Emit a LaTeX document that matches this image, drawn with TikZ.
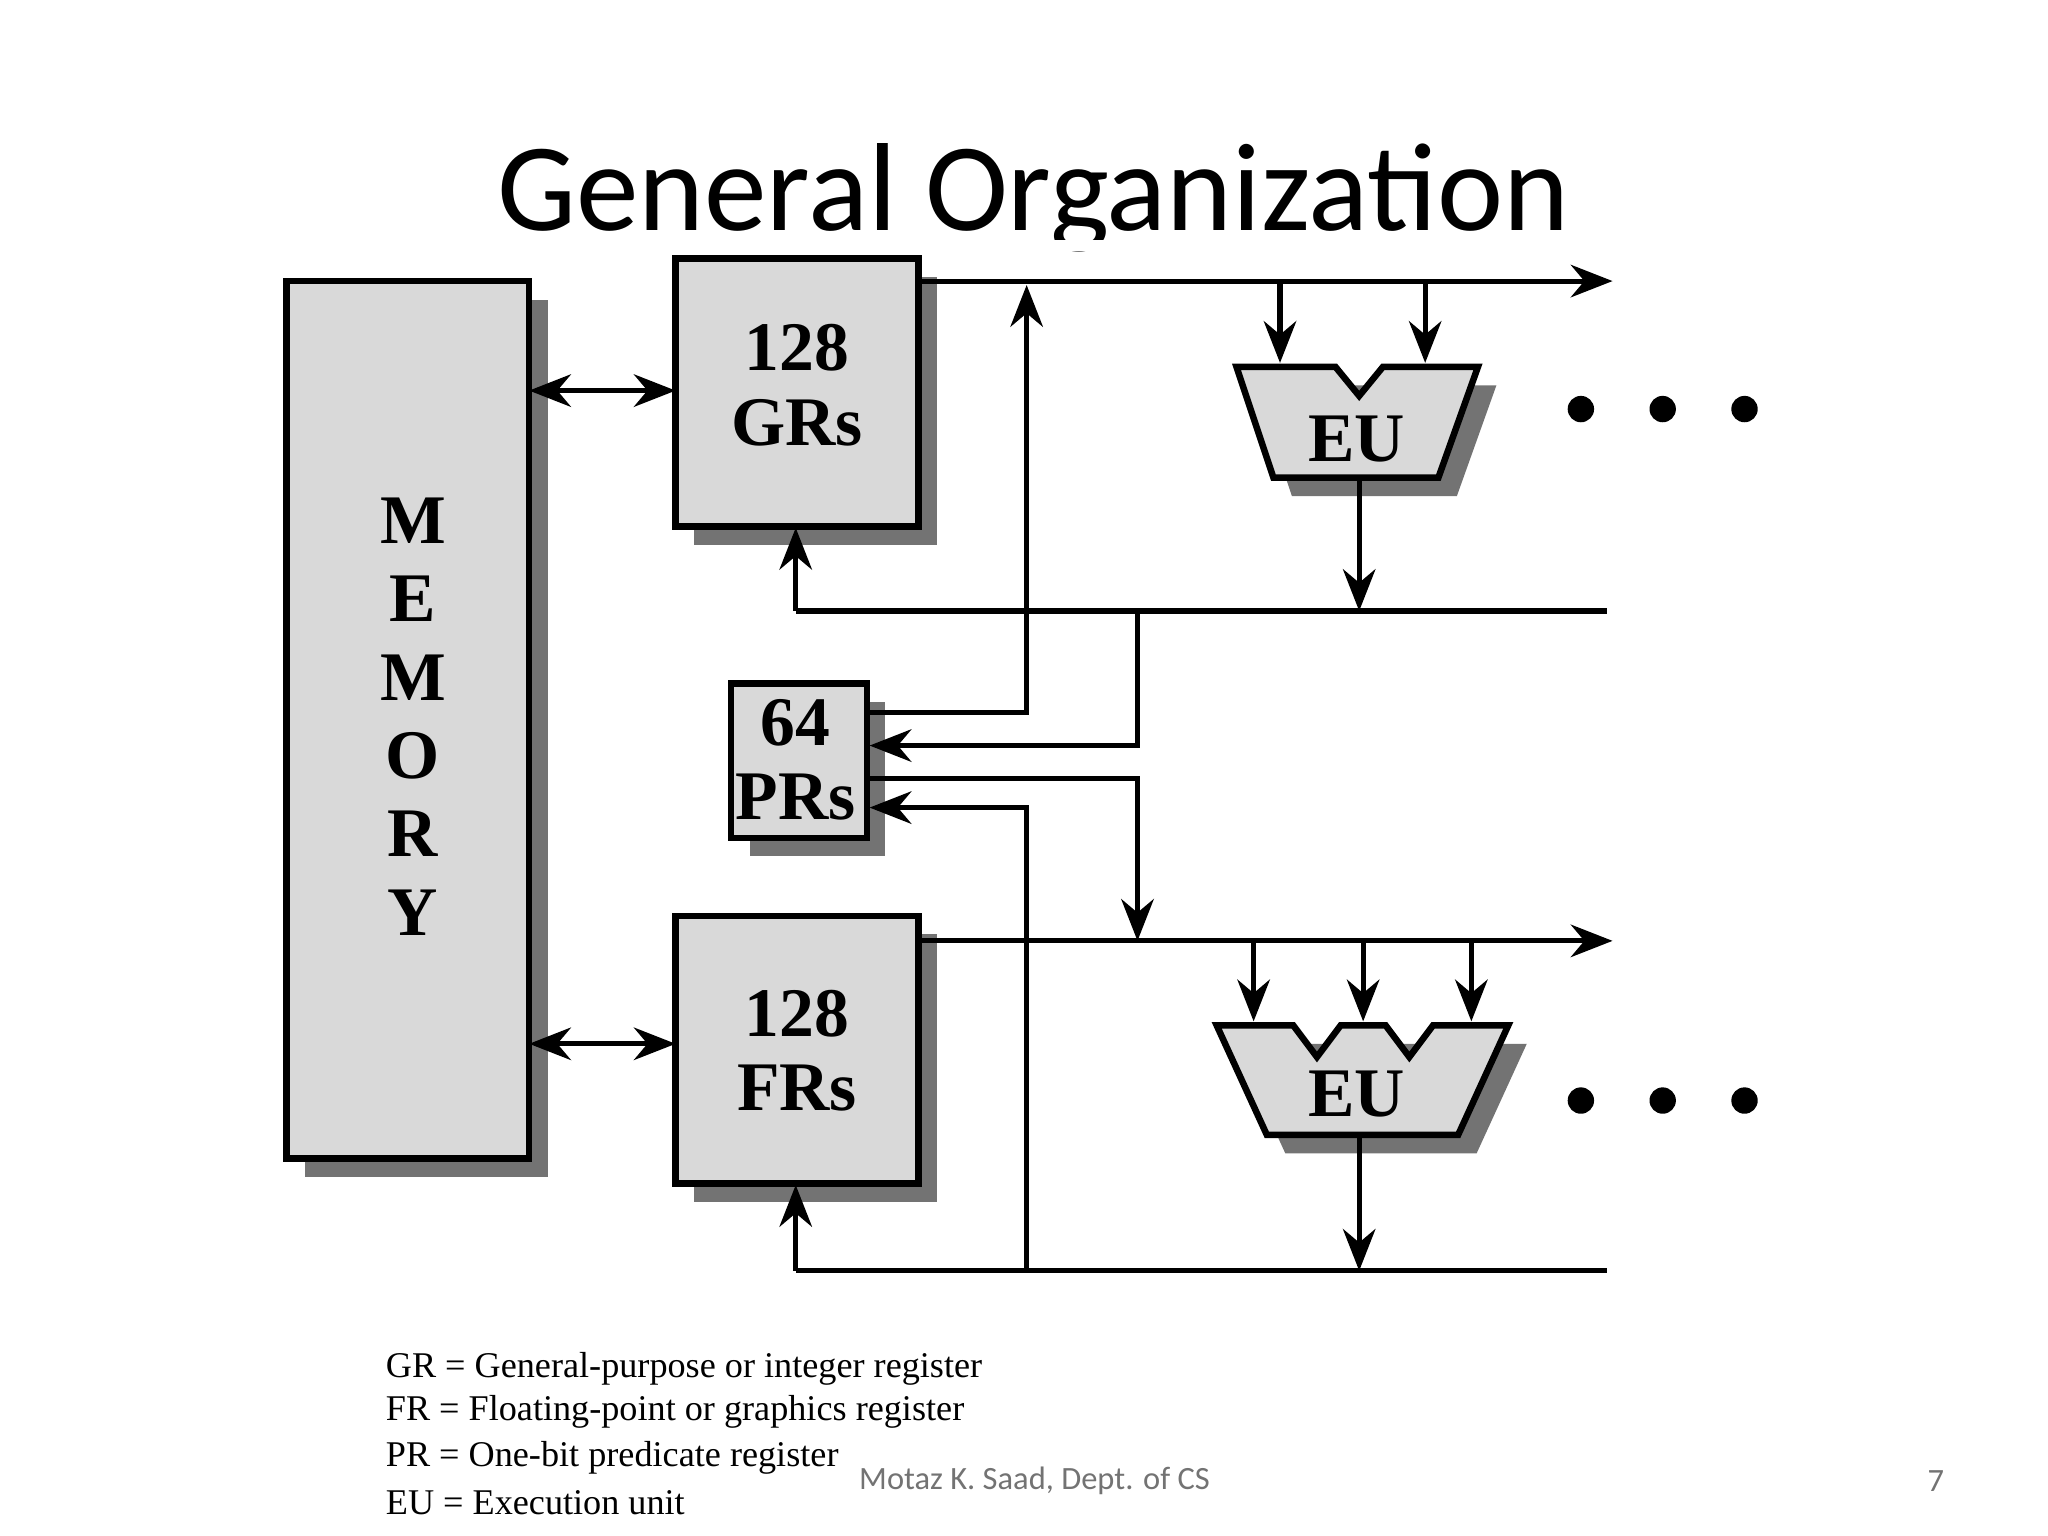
\documentclass[tikz,border=0pt]{standalone}
\usepackage{fontspec}
\setmainfont{Liberation Serif}
\newfontfamily\titlefont{Carlito}
\usetikzlibrary{arrows.meta}
\begin{document}
\begin{tikzpicture}[x=0.01cm,y=-0.01cm,
  box/.style={draw,line width=1.4pt,fill=black!15},
  shad/.style={fill=black!55},
  ln/.style={line width=1.1pt},
  ar/.style={ln,-{Stealth[length=9pt,width=7pt]}},
  dar/.style={ln,{Stealth[length=9pt,width=7pt]}-{Stealth[length=9pt,width=7pt]}},
  big/.style={align=center,inner sep=0pt,font=\fontsize{15}{16}\selectfont\bfseries},
  leg/.style={anchor=west,font=\fontsize{7.8}{9}\selectfont}]
\useasboundingbox (0,0) rectangle (1552,1164);
\node[font=\titlefont\fontsize{27}{30}\selectfont] (title) at (783,150) {General Organization};
\fill[white] (150,182) rectangle (1400,190);
% shadows
\fill[shad] (231,227) rectangle (415,892);
\fill[shad] (526,210) rectangle (710,413);
\fill[shad] (568,532) rectangle (671,649);
\fill[shad] (526,708) rectangle (710,911);
\fill[shad] (951,292) -- (1134,292) -- (1104,376) -- (979,376) -- cycle;
\fill[shad] (936,791) -- (1157,791) -- (1119,874) -- (974,874) -- cycle;
% boxes
\draw[box] (217,213) rectangle (401,878);
\node[big,font=\fontsize{15}{16.9}\selectfont\bfseries] (mem) at (313,543) {M\\E\\M\\O\\R\\Y};
\draw[box] (512,196) rectangle (696,399);
\node[big] (gr) at (604,292) {128\\GRs};
\draw[box] (554,518) rectangle (657,635);
\node[big] (pr) at (603,576) {64\\PRs};
\draw[box] (512,694) rectangle (696,897);
\node[big] (fr) at (604,796) {128\\FRs};
% EUs
\draw[box] (937,278) -- (1012,278) -- (1030,300) -- (1048,278) -- (1120,278) -- (1090,362) -- (965,362) -- cycle;
\node[big] (eu1) at (1028,333) {EU};
\draw[box] (922,777) -- (980,777) -- (998,801) -- (1016,777) -- (1050,777) -- (1068,801) -- (1086,777) -- (1143,777) -- (1105,860) -- (960,860) -- cycle;
\node[big] (eu2) at (1028,829) {EU};
% memory arrows
\draw[dar] (401,296) -- (512,296);
\draw[dar] (401,791) -- (512,791);
% GR bus
\draw[ar] (696,213) -- (1222,213);
\draw[ar] (970,213) -- (970,275);
\draw[ar] (1080,213) -- (1080,275);
\draw[ln] (603,463) -- (1218,463);
\draw[ar] (603,463) -- (603,400);
\draw[ar] (1030,362) -- (1030,463);
\draw[ar] (657,540) -- (778,540) -- (778,216);
\draw[ar] (862,463) -- (862,565) -- (659,565);
\draw[ar] (657,590) -- (862,590) -- (862,713);
% FR bus
\draw[ar] (696,713) -- (1222,713);
\draw[ar] (950,713) -- (950,774);
\draw[ar] (1033,713) -- (1033,774);
\draw[ar] (1115,713) -- (1115,774);
\draw[ln] (603,963) -- (1218,963);
\draw[ar] (603,963) -- (603,898);
\draw[ar] (1030,860) -- (1030,963);
\draw[ar] (778,963) -- (778,612) -- (659,612);
% dots
\foreach \x in {1198,1260,1322}{\fill (\x,310) circle (10); \fill (\x,834) circle (10);}
% legend
\node[leg] (l1) at (280,1037) {GR = General-purpose or integer register};
\node[leg] (l2) at (280,1070) {FR = Floating-point or graphics register};
\node[leg] (l3) at (280,1105) {PR = One-bit predicate register};
\node[leg] (l4) at (280,1139) {EU = Execution unit};
\node[font=\titlefont\fontsize{7}{9}\selectfont,text=black!55] (foot) at (784,1122) {Motaz K. Saad, Dept. of CS};
\node[font=\titlefont\fontsize{7}{9}\selectfont,text=black!55] (pg) at (1467,1122) {7};
\end{tikzpicture}
\end{document}
